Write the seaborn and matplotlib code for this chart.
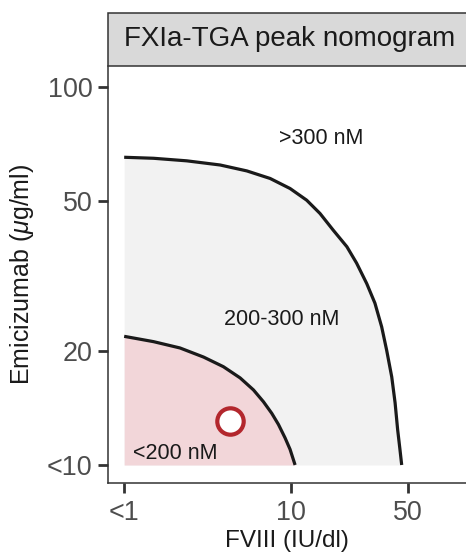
import numpy as np
import pandas as pd
import matplotlib
matplotlib.use("Agg")
import matplotlib.pyplot as plt
from matplotlib.patches import Rectangle
import seaborn as sns

# Iso-peak boundaries of the FXIa-triggered thrombin generation nomogram
outer_fviii = [1.0, 1.5, 2.37, 3.76, 5.43, 7.49, 9.86, 12.4, 14.9, 17.9, 21.6, 24.7,
               28.4, 31.8, 34.9, 37.4, 40.1, 42.0, 43.5, 44.9, 46.0]
outer_emi = [65.2, 64.8, 63.8, 62.2, 60.0, 57.3, 53.9, 50.2, 46.3, 41.8, 37.8, 34.2,
             30.2, 26.8, 23.2, 20.1, 17.1, 14.6, 12.4, 11.0, 10.0]

inner_fviii = [1.0, 1.5, 2.16, 2.99, 3.93, 4.95, 5.95, 6.83, 7.66, 8.40, 9.20, 9.86, 10.57]
inner_emi = [21.9, 21.2, 20.4, 19.3, 18.2, 17.0, 15.8, 14.7, 13.7, 12.8, 11.8, 11.0, 10.0]

# Patient sample
patient_fviii = [4.3]
patient_emi = [13.1]

x_ticks = [1, 10, 50]
x_ticklabels = ["<1", "10", "50"]
y_ticks = [10, 20, 50, 100]
y_ticklabels = ["<10", "20", "50", "100"]

zone_labels = [">300 nM", "200-300 nM", "<200 nM"]
zone_label_x = [15.1, 8.8, 1.13]
zone_label_y = [73.1, 24.3, 10.73]

sns.set_style("ticks")
plt.rcParams["font.family"] = ["Liberation Sans", "DejaVu Sans"]
plt.rcParams["mathtext.fontset"] = "custom"
plt.rcParams["mathtext.rm"] = "Liberation Sans"
plt.rcParams["mathtext.it"] = "Liberation Sans:italic"

W, H = 466, 558
fig = plt.figure(figsize=(W / 100, H / 100), dpi=100)
left, right, top, bottom = 108, 466, 66, 483
ax = fig.add_axes([left / W, 1 - bottom / H, (right - left) / W, (bottom - top) / H])

outer = pd.DataFrame({"fviii": outer_fviii, "emi": outer_emi})
inner = pd.DataFrame({"fviii": inner_fviii, "emi": inner_emi})
patient = pd.DataFrame({"fviii": patient_fviii, "emi": patient_emi})

ax.set_xscale("log")
ax.set_yscale("log")

ax.fill_between(outer["fviii"], outer["emi"], 10, color="#F2F2F2", lw=0, zorder=1)
ax.fill_between(inner["fviii"], inner["emi"], 10, color="#F2D6D9", lw=0, zorder=2)

for df in (outer, inner):
    sns.lineplot(data=df, x="fviii", y="emi", sort=False, estimator=None,
                 color="#1A1A1A", lw=2.3, ax=ax, zorder=3,
                 solid_joinstyle="round", solid_capstyle="butt")
sns.scatterplot(data=patient, x="fviii", y="emi", s=19 ** 2, color="white",
                edgecolor="#B3272D", linewidth=3.0, ax=ax, zorder=4)

for lab, lx, ly in zip(zone_labels, zone_label_x, zone_label_y):
    ha = "left" if lab.startswith("<") else "center"
    ax.text(lx, ly, lab, ha=ha, va="center", fontsize=15.5, color="#1A1A1A", zorder=5)

ax.set_xlim(0.80, 111.7)
ax.set_ylim(8.96, 113.7)
ax.set_xticks(x_ticks)
ax.set_xticklabels(x_ticklabels)
ax.set_yticks(y_ticks)
ax.set_yticklabels(y_ticklabels)
ax.minorticks_off()
ax.tick_params(axis="both", length=7, width=2, color="#333333",
               labelsize=19.4, labelcolor="#4D4D4D")
ax.tick_params(axis="x", pad=5)
ax.tick_params(axis="y", pad=4)

for side in ["top", "right"]:
    ax.spines[side].set_visible(False)
for side in ["left", "bottom"]:
    ax.spines[side].set_color("#333333")
    ax.spines[side].set_linewidth(1.1)

ax.set_xlabel("FVIII (IU/dl)", fontsize=17.5, color="#1A1A1A", labelpad=3)
ax.set_ylabel(r"Emicizumab ($\mu$g/ml)", fontsize=18, color="#1A1A1A", labelpad=8)

# Facet strip
strip_top = 13
strip = Rectangle((left / W, 1 - top / H), (right - left) / W + 0.02, (top - strip_top) / H,
                  transform=fig.transFigure, facecolor="#D9D9D9", edgecolor="#333333",
                  lw=1.1, clip_on=False)
fig.add_artist(strip)
fig.text((left + right) / 2 / W + 0.005, 1 - (top + strip_top) / 2 / H, "FXIa-TGA peak nomogram",
         ha="center", va="center", fontsize=20, color="#1A1A1A")

fig.savefig("out.png", dpi=100)
